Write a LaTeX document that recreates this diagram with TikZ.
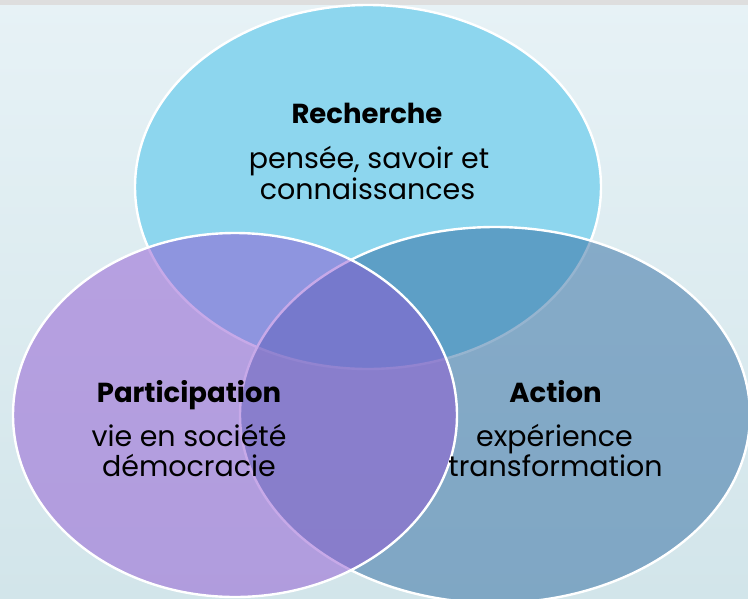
\documentclass[tikz,border=0pt]{standalone}
\usepackage{fontspec}
\setmainfont{Poppins}
\usetikzlibrary{shapes.geometric}
\definecolor{bgtop}{HTML}{E7F2F6}
\definecolor{bgbot}{HTML}{D2E5EA}
\definecolor{band}{HTML}{DEDEDE}
\definecolor{rechc}{HTML}{8DD6EE}
\definecolor{actc}{HTML}{2E6AA0}
\definecolor{partc}{HTML}{9055D2}
\tikzset{
  venn/.style={ellipse, draw=white, line width=2.4pt, inner sep=0pt, draw opacity=1},
  ttl/.style={anchor=base, inner sep=0pt, font=\fontsize{27.5}{30}\selectfont\bfseries, text=black},
  sub/.style={anchor=base, inner sep=0pt, font=\fontsize{28.5}{31}\selectfont, text=black}
}
\begin{document}
\begin{tikzpicture}[x=1pt,y=-1pt]
\useasboundingbox (0,0) rectangle (748,598);
\clip (0,0) rectangle (748,598);
\shade[top color=bgtop, bottom color=bgbot] (0,0) rectangle (748,598);
\fill[band] (0,0) rectangle (748,5);
\node[venn, fill=rechc, minimum width=466pt, minimum height=364pt] (rech) at (368,187) {};
\node[venn, fill=actc, fill opacity=0.5, minimum width=510pt, minimum height=376pt] (act) at (495,415) {};
\node[venn, fill=partc, fill opacity=0.5, minimum width=444pt, minimum height=364pt] (part) at (235,415) {};
\node[ttl] (rechT) at (367,123) {Recherche};
\node[sub] (rech1) at (369,168) {pensée, savoir et};
\node[sub] (rech2) at (367.5,199) {connaissances};
\node[ttl] (partT) at (189,402) {Participation};
\node[sub] (part1) at (189,446) {vie en société};
\node[sub] (part2) at (189,476) {démocracie};
\node[ttl] (actT) at (555.5,402) {Action};
\node[sub] (act1) at (554.5,446) {expérience};
\node[sub] (act2) at (555.5,476) {transformation};
\end{tikzpicture}
\end{document}
